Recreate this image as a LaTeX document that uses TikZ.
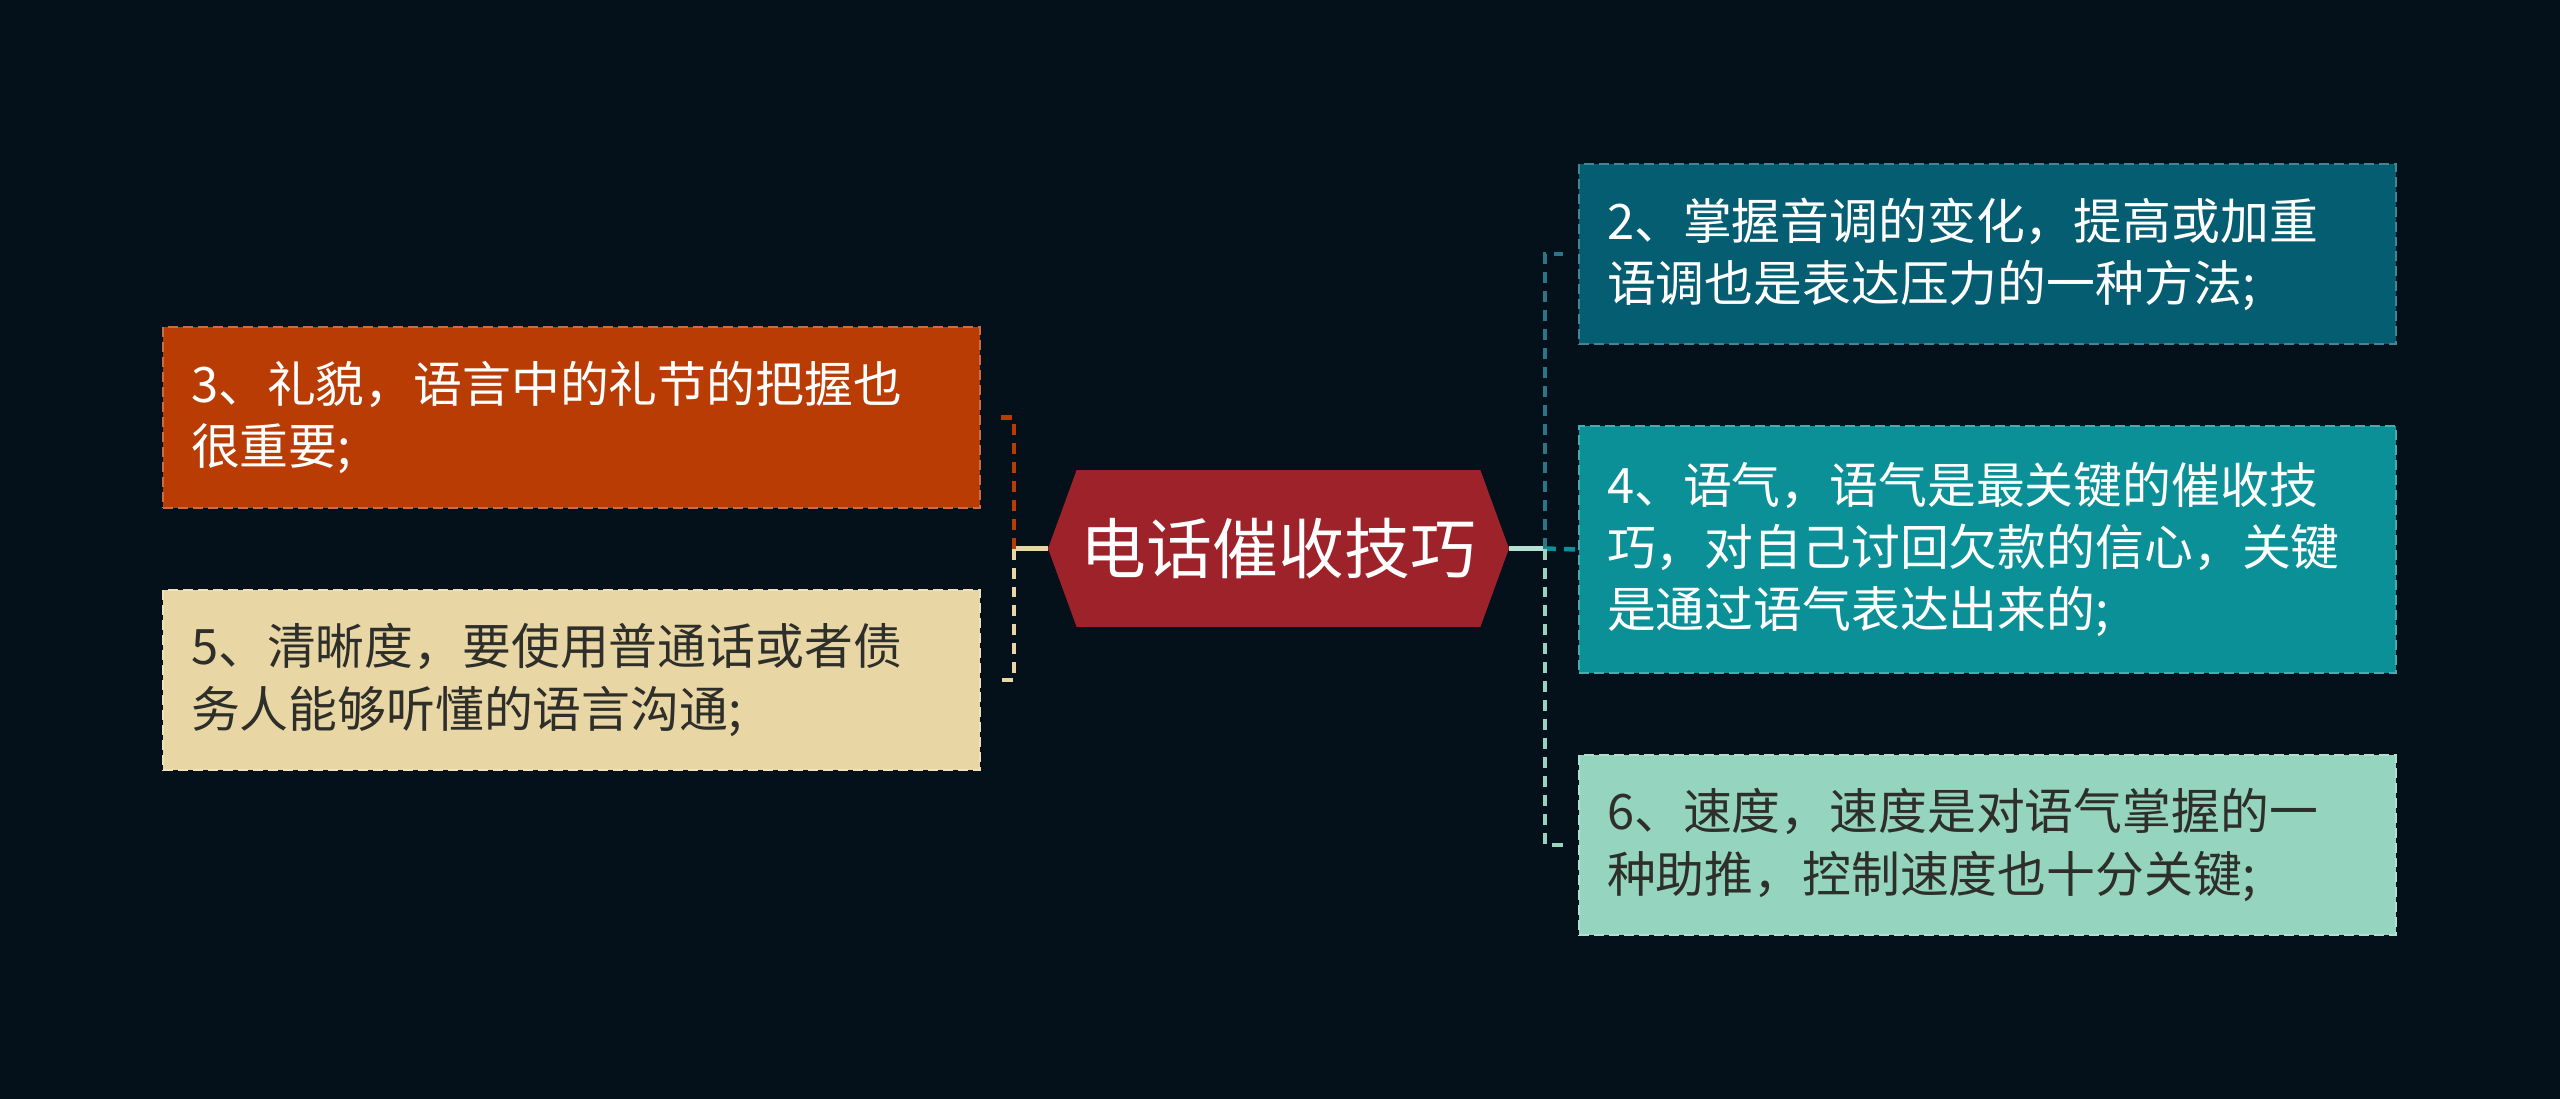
\documentclass[tikz,border=0pt]{standalone}
\usepackage{fontspec}
\usepackage{tikz}
\usetikzlibrary{shapes.symbols, positioning, calc}
\newfontfamily\cjk{Noto Sans CJK SC}
\definecolor{fondo}{HTML}{04111A}
\definecolor{rojo}{HTML}{9E2229}
\definecolor{naranja}{HTML}{B93C05}
\definecolor{crema}{HTML}{E8D7A4}
\definecolor{petroleo}{HTML}{055D72}
\definecolor{turquesa}{HTML}{0A9096}
\definecolor{menta}{HTML}{95D4BE}
\definecolor{oscuro}{HTML}{2E2E2A}
\tikzset{
  raiz/.style={signal, signal to=east and west, signal pointer angle=140, minimum width=9.22cm, minimum height=3.14cm, inner sep=0pt, fill=rojo, text=white, font=\cjk\fontsize{37.5}{44}\selectfont},
  hoja/.style={rectangle, minimum width=16.34cm, minimum height=3.62cm, text width=15.22cm, inner xsep=0.56cm, align=left, fill=#1, draw=#1!75!white, line width=0.04cm, dash pattern=on 0.2cm off 0.1cm, font=\cjk\fontsize{27.8}{35.3}\selectfont},
  enlace/.style={line width=0.09cm, dash pattern=on 0.22cm off 0.16cm},
  tronco/.style={line width=0.09cm}
}
\begin{document}
\begin{tikzpicture}[x=0.02cm, y=-0.02cm]
    % Fondo oscuro con las medidas de la imagen
    \fill[fondo] (0,0) rectangle (2560,1099);
    \useasboundingbox (0,0) rectangle (2560,1099);

    % Nodo central
    \node[raiz] (tecnicas) at (1278.5,548.5) {电话催收技巧};

    % Ramas de la izquierda
    \node[hoja=naranja, text=white] (cortesia) at (571.5,417.5) {3、礼貌，语言中的礼节的把握也\\很重要;};
    \node[hoja=crema, text=oscuro] (claridad) at (571.5,680) {5、清晰度，要使用普通话或者债\\务人能够听懂的语言沟通;};

    % Ramas de la derecha
    \node[hoja=petroleo, text=white] (entonacion) at (1987.5,254) {2、掌握音调的变化，提高或加重\\语调也是表达压力的一种方法;};
    \node[hoja=turquesa, text=white, minimum height=4.94cm] (tono) at (1987.5,549.5) {4、语气，语气是最关键的催收技\\巧，对自己讨回欠款的信心，关键\\是通过语气表达出来的;};
    \node[hoja=menta, text=oscuro] (velocidad) at (1987.5,845) {6、速度，速度是对语气掌握的一\\种助推，控制速度也十分关键;};

    % Puntos de union de los corchetes
    \coordinate (unionizq) at (1014,548.5);
    \coordinate (unionder) at (1545,548.5);

    % Conectores izquierda
    \draw[tronco, crema] (tecnicas.west) -- (unionizq);
    \draw[enlace, naranja, shorten >=0.26cm] (unionizq) |- (cortesia.east);
    \draw[enlace, crema, shorten >=0.26cm] (unionizq) |- (claridad.east);

    % Conectores derecha
    \draw[tronco, menta!70!white] (tecnicas.east) -- (unionder);
    \draw[enlace, petroleo!85!white, shorten >=0.3cm] (unionder) |- (entonacion.west);
    \draw[enlace, turquesa] (unionder) -- (tono.west);
    \draw[enlace, menta, shorten >=0.3cm] (unionder) |- (velocidad.west);
\end{tikzpicture}
\end{document}
